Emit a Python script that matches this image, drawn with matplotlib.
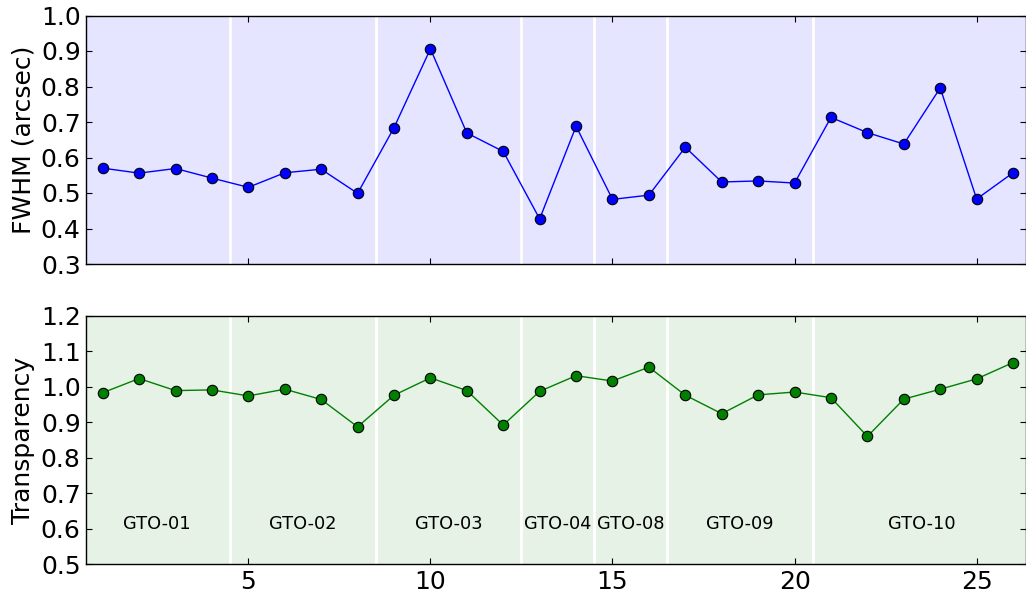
import matplotlib
matplotlib.use("Agg")
import matplotlib.pyplot as plt
import numpy as np

nights = list(range(1, 27))
fwhm = [0.570, 0.556, 0.569, 0.542, 0.516, 0.557, 0.567, 0.499, 0.684, 0.906,
        0.669, 0.617, 0.427, 0.688, 0.482, 0.494, 0.629, 0.531, 0.534, 0.528,
        0.713, 0.670, 0.638, 0.796, 0.483, 0.557]
transparency = [0.983, 1.023, 0.989, 0.991, 0.974, 0.993, 0.964, 0.887, 0.976, 1.025,
                0.989, 0.892, 0.987, 1.031, 1.016, 1.055, 0.976, 0.924, 0.977, 0.985,
                0.969, 0.860, 0.965, 0.993, 1.022, 1.068]
groups = ["GTO-01", "GTO-02", "GTO-03", "GTO-04", "GTO-08", "GTO-09", "GTO-10"]
group_bounds = [(0.5, 4.5), (4.5, 8.5), (8.5, 12.5), (12.5, 14.5), (14.5, 16.5),
                (16.5, 20.5), (20.5, 26.5)]

W, H = 1026, 596
fig = plt.figure(figsize=(W / 100, H / 100), dpi=100)

def px_axes(x0, y0, x1, y1):
    return fig.add_axes([x0 / W, 1 - y1 / H, (x1 - x0) / W, (y1 - y0) / H])

ax1 = px_axes(86.3, 15.5, 1025.8, 264.0)
ax2 = px_axes(86.3, 315.7, 1025.8, 564.2)

xlim = (0.55, 26.35)

for ax, bg in ((ax1, "blue"), (ax2, "green")):
    ax.set_facecolor("white")
    for (a, b) in group_bounds:
        ax.axvspan(a, b, color=bg, alpha=0.1, lw=0, zorder=0)
    for (a, b) in group_bounds[1:]:
        ax.axvline(a, color="white", lw=2, zorder=1)
    ax.set_xlim(*xlim)
    ax.tick_params(direction="in", top=True, right=True, length=4, width=0.8,
                   labelsize=18, pad=4)
    for s in ax.spines.values():
        s.set_linewidth(1.0)
    ax.set_xticks([5, 10, 15, 20, 25])

ax1.plot(nights, fwhm, "-o", color="blue", lw=1, ms=7.5, mfc="blue",
         mec="black", mew=0.8, zorder=3)
ax1.set_ylim(0.3, 1.0)
ax1.set_yticks(np.arange(0.3, 1.01, 0.1))
ax1.set_yticklabels([f"{v:.1f}" for v in np.arange(0.3, 1.01, 0.1)])
ax1.set_xticklabels([])
ax1.set_ylabel("FWHM (arcsec)", fontsize=18, labelpad=4)

ax2.plot(nights, transparency, "-o", color="green", lw=1, ms=7.5, mfc="green",
         mec="black", mew=0.8, zorder=3)
ax2.set_ylim(0.5, 1.2)
ax2.set_yticks(np.arange(0.5, 1.21, 0.1))
ax2.set_yticklabels([f"{v:.1f}" for v in np.arange(0.5, 1.21, 0.1)])
ax2.set_ylabel("Transparency", fontsize=18, labelpad=4)

for name, (a, b) in zip(groups, group_bounds):
    ax2.text((a + b) / 2, 0.6, name, ha="center", va="baseline", fontsize=12.8)

fig.savefig("out.png", dpi=100)
